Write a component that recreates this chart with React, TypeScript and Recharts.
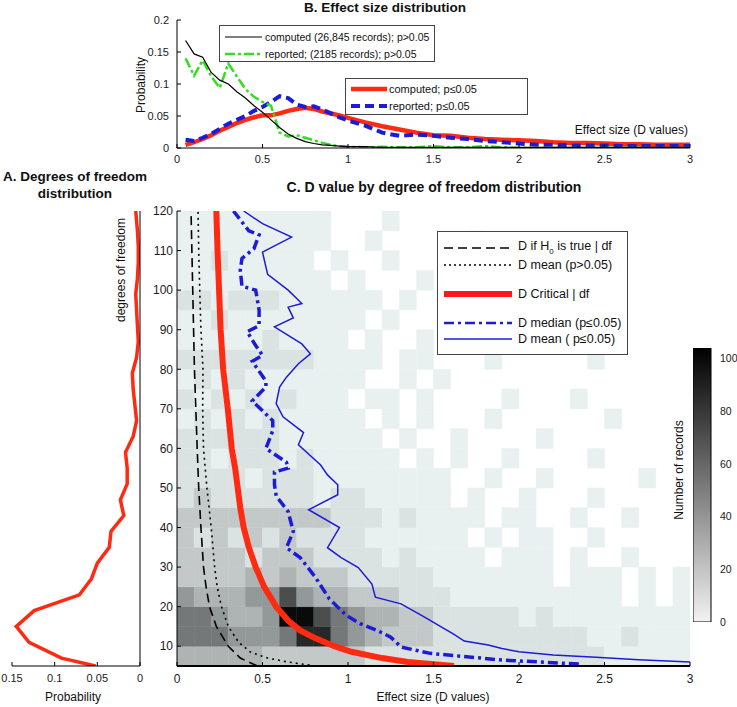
import React from "react";
import { LineChart, Line, XAxis, YAxis, ReferenceArea, BarChart, Bar } from "recharts";

const FONT = "'Liberation Sans', Arial, Helvetica, sans-serif";
const NARROW = "'Liberation Sans Narrow', 'Liberation Sans', Arial, sans-serif";
const RED = "#ff2a12";
const BLUE = "#1c1cd6";
const GREEN = "#33dd22";

// ---------- B. Effect size distribution ----------
const effectX = [
  0.05, 0.1, 0.15, 0.2, 0.25, 0.3, 0.35, 0.4, 0.45, 0.5, 0.55, 0.6, 0.65, 0.7, 0.75, 0.8, 0.85, 0.9, 0.95, 1.0,
  1.1, 1.2, 1.3, 1.4, 1.5, 1.6, 1.7, 1.8, 1.9, 2.0, 2.1, 2.2, 2.3, 2.4, 2.5, 2.6, 2.7, 2.8, 2.9, 3.0,
];
const computedNS = [
  0.168, 0.147, 0.142, 0.118, 0.106, 0.1, 0.088, 0.078, 0.066, 0.056, 0.044, 0.032, 0.022, 0.015, 0.01, 0.007, 0.005, 0.004, 0.003, 0.002,
  0.002, 0.001, 0.001, 0.001, 0.001, 0.001, 0.001, 0.001, 0.001, 0.001, 0.001, 0.001, 0.001, 0.001, 0.001, 0.001, 0.001, 0.001, 0.001, 0.001,
];
const reportedNS = [
  0.14, 0.113, 0.137, 0.112, 0.094, 0.132, 0.112, 0.092, 0.08, 0.072, 0.066, 0.024, 0.018, 0.02, 0.016, 0.012, 0.008, 0.005, 0.003, 0.002,
  0.001, 0.002, 0.001, 0.001, 0.003, 0.001, 0.001, 0.003, 0.001, 0, 0, 0, 0, 0, 0, 0, 0, 0, 0, 0,
];
const computedSig = [
  0.005, 0.009, 0.014, 0.02, 0.027, 0.033, 0.039, 0.044, 0.048, 0.051, 0.051, 0.054, 0.058, 0.061, 0.063, 0.061, 0.057, 0.054, 0.051, 0.047,
  0.04, 0.034, 0.029, 0.024, 0.02, 0.019, 0.016, 0.014, 0.013, 0.012, 0.011, 0.009, 0.008, 0.008, 0.007, 0.006, 0.006, 0.005, 0.005, 0.005,
];
const reportedSig = [
  0.013, 0.011, 0.016, 0.022, 0.03, 0.038, 0.044, 0.05, 0.058, 0.064, 0.072, 0.081, 0.078, 0.068, 0.064, 0.065, 0.06, 0.054, 0.048, 0.043,
  0.035, 0.024, 0.019, 0.021, 0.019, 0.016, 0.014, 0.011, 0.009, 0.007, 0.005, 0.005, 0.004, 0.004, 0.004, 0.003, 0.003, 0.003, 0.003, 0.003,
];

// ---------- A. Degrees of freedom distribution ----------
const dfDistDf = [5, 7, 11, 15, 19, 23, 27, 31, 35, 39, 43, 47, 51, 55, 59, 63, 67, 71, 75, 79, 83, 87, 91, 95, 99, 103, 107, 111, 115, 120];
const dfDistProb = [
  0.052, 0.092, 0.13, 0.145, 0.124, 0.071, 0.057, 0.05, 0.036, 0.034, 0.019, 0.023, 0.015, 0.015, 0.017,
  0.008, 0.004, 0.006, 0.008, 0.009, 0.004, 0.002, 0.003, 0.004, 0.005, 0.003, 0.002, 0.002, 0.003, 0.005,
];

// ---------- C. D value by df ----------
const h0Df = [5, 7, 10, 15, 20, 25, 30, 40, 50, 60, 70, 80, 90, 100, 110, 120];
const h0D = [0.47, 0.37, 0.3, 0.23, 0.19, 0.17, 0.155, 0.14, 0.127, 0.118, 0.11, 0.102, 0.097, 0.092, 0.087, 0.082];

const meanNsDf = [5, 6, 7, 8.5, 11, 15, 20, 25, 30, 40, 50, 60, 70, 80, 90, 100, 110, 120];
const meanNsD = [0.81, 0.65, 0.53, 0.43, 0.36, 0.3, 0.26, 0.235, 0.22, 0.2, 0.175, 0.155, 0.15, 0.152, 0.14, 0.133, 0.127, 0.123];

const critDf = [5, 6, 7, 8.6, 10, 12, 14, 16.5, 20, 25, 30, 35, 40, 45, 50, 55, 60, 70, 80, 90, 100, 110, 120];
const critD = [1.62, 1.35, 1.2, 1.02, 0.92, 0.81, 0.72, 0.65, 0.58, 0.51, 0.46, 0.42, 0.39, 0.37, 0.355, 0.34, 0.32, 0.297, 0.27, 0.255, 0.246, 0.237, 0.23];

const medSigDf = [
  5.5, 6.5, 8.2, 9.8, 12.3, 14, 15.7, 17.8, 22, 27.4, 32.4, 34.9, 39, 44, 48, 50.8, 54, 55, 56.5, 60,
  64.5, 67, 69.5, 72, 75.5, 77, 82, 83.5, 86, 89.5, 91, 95, 100, 101, 105, 108, 110.5, 114, 115, 120,
];
const medSigD = [
  2.35, 1.9, 1.48, 1.31, 1.25, 1.17, 1.07, 0.99, 0.89, 0.81, 0.72, 0.64, 0.68, 0.65, 0.58, 0.57, 0.57, 0.65, 0.64, 0.52,
  0.56, 0.56, 0.5, 0.44, 0.52, 0.52, 0.44, 0.5, 0.46, 0.41, 0.48, 0.48, 0.46, 0.38, 0.37, 0.38, 0.45, 0.48, 0.42, 0.33,
];

const meanSigDf = [
  6, 6.6, 7.2, 7.8, 8.6, 9.4, 10.3, 11.3, 13, 14, 17.8, 20.7, 22.4, 25.7, 29.9, 32.4, 34.9, 40, 44.5, 48.3, 50.8,
  53.3, 55.8, 60.9, 64, 68, 71.3, 75.5, 78, 81.4, 83.9, 86.4, 90.7, 93, 95.7, 96.6, 100, 104, 109.6, 113.4, 116.8, 120,
];
const meanSigD = [
  3.0, 2.7, 2.45, 2.2, 2.0, 1.9, 1.82, 1.68, 1.62, 1.58, 1.43, 1.31, 1.16, 1.14, 1.06, 0.96, 0.88, 0.95, 0.77, 0.94, 0.94,
  0.88, 0.84, 0.71, 0.74, 0.62, 0.58, 0.6, 0.64, 0.71, 0.78, 0.73, 0.57, 0.68, 0.65, 0.73, 0.65, 0.53, 0.5, 0.67, 0.5, 0.39,
];

// heat map: rows of 5 df (from df 5 upward), columns of 0.1 D (0 .. 3); digit = density level
const heatDfStart = [5, 10, 15, 20, 25, 30, 35, 40, 45, 50, 55, 60, 65, 70, 75, 80, 85, 90, 95, 100, 105, 110, 115];
const heatDStart = [
  0, 0.1, 0.2, 0.3, 0.4, 0.5, 0.6, 0.7, 0.8, 0.9, 1.0, 1.1, 1.2, 1.3, 1.4,
  1.5, 1.6, 1.7, 1.8, 1.9, 2.0, 2.1, 2.2, 2.3, 2.4, 2.5, 2.6, 2.7, 2.8, 2.9,
];
const heatRows = [
  "444443333332222222222222211111",
  "666555688654333222222222112111",
  "665445997654433222221211111111",
  "544455754433322211111111110101",
  "333343433322222111111101110101",
  "333323332222121111011101001000",
  "323232322221111110101100100000",
  "333333333222121111011001001000",
  "232222221221111101001000100000",
  "222212221111111100100100000100",
  "221222121111101010010000100000",
  "222222111111010010000100000000",
  "121212111110101000100000010000",
  "212121211101101000010001000000",
  "121211111110010100000000000000",
  "222222221111011000100000100000",
  "111112111101001000000100000000",
  "112111111110100001000000000000",
  "221222111111010000000000100000",
  "111111111010001000000000000000",
  "112111110100100000000100000000",
  "111111111001000001000000000000",
  "111111111000100000000000000000",
];
// approximate number of records for each density level 0..9
const levelCounts = [0, 6, 12, 22, 31, 42, 55, 72, 88, 100];
const colorMax = 104;
const colorTicks = [0, 20, 40, 60, 80, 100];

const dTicks = [0, 0.5, 1, 1.5, 2, 2.5, 3];
const probTicks = [0, 0.05, 0.1, 0.15, 0.2];
const dfTicks = [10, 20, 30, 40, 50, 60, 70, 80, 90, 100, 110, 120];
const dfProbTicks = [0, 0.05, 0.1, 0.15];

const pts = (xs: number[], ys: number[], xk: string, yk: string) =>
  xs.map((x, i) => ({ [xk]: x, [yk]: ys[i] }));

const heatCells: { d: number; df: number; count: number }[] = [];
heatRows.forEach((row, r) => {
  heatDStart.forEach((d, c) => {
    const level = Number(row[c] || 0);
    if (level > 0) heatCells.push({ d, df: heatDfStart[r], count: levelCounts[level] });
  });
});
const grayFor = (count: number) => {
  const v = 255 * (1 - Math.min(count, colorMax) / colorMax);
  return `rgb(${Math.round(v * 0.97)},${Math.round(v)},${Math.round(v)})`;
};

const tickStyle = { fontSize: 11, fill: "#1a1a1a", fontFamily: FONT };

const Txt = ({
  x, y, children, size = 12, bold = false, rotate = false, anchor = "middle",
}: {
  x: number; y: number; children: React.ReactNode; size?: number; bold?: boolean; rotate?: boolean; anchor?: string;
}) => (
  <div
    style={{
      position: "absolute",
      left: x,
      top: y,
      transform: `translate(${anchor === "middle" ? "-50%" : anchor === "end" ? "-100%" : "0"}, -50%)${rotate ? " rotate(-90deg)" : ""}`,
      fontFamily: FONT,
      fontSize: size,
      fontWeight: bold ? 700 : 400,
      whiteSpace: "nowrap",
      color: "#111",
      lineHeight: 1.25,
      textAlign: "center",
    }}
  >
    {children}
  </div>
);

type Entry = { label: React.ReactNode; stroke: string; width: number; dash?: string; y: number };
const LegendBox = ({
  left, top, width, height, entries, sampleX, sampleW, textX, size,
}: {
  left: number; top: number; width: number; height: number; entries: Entry[]; sampleX: number; sampleW: number; textX: number; size: number;
}) => (
  <div style={{ position: "absolute", left, top, width, height, border: "1px solid #444", background: "#fff", boxSizing: "border-box" }}>
    {entries.map((e, i) => (
      <React.Fragment key={i}>
        <svg style={{ position: "absolute", left: sampleX, top: e.y - 6 }} width={sampleW} height={12}>
          <line x1={0} y1={6} x2={sampleW} y2={6} stroke={e.stroke} strokeWidth={e.width} strokeDasharray={e.dash} />
        </svg>
        <div
          style={{
            position: "absolute", left: textX, top: e.y, transform: "translateY(-50%)",
            fontFamily: FONT, fontSize: size, whiteSpace: "nowrap", lineHeight: 1, color: "#111",
          }}
        >
          {e.label}
        </div>
      </React.Fragment>
    ))}
  </div>
);

const EffectChart = () => (
  <div style={{ position: "absolute", left: 0, top: 0 }}>
    <LineChart width={737} height={175} margin={{ top: 20, right: 47, bottom: 2, left: 137 }}>
      <XAxis type="number" dataKey="d" domain={[0, 3]} ticks={dTicks} allowDataOverflow height={25}
        stroke="#000" tickSize={-4} tickMargin={11} tick={tickStyle} />
      <YAxis type="number" domain={[0, 0.2]} ticks={probTicks} allowDataOverflow width={40}
        stroke="#000" tickSize={-4} tickMargin={12} tick={tickStyle} />
      <Line data={pts(effectX, computedSig, "d", "p")} dataKey="p" stroke={RED} strokeWidth={4.5}
        dot={false} activeDot={false} isAnimationActive={false} />
      <Line data={pts(effectX, reportedSig, "d", "p")} dataKey="p" stroke={BLUE} strokeWidth={4}
        strokeDasharray="9 5" dot={false} activeDot={false} isAnimationActive={false} />
      <Line data={pts(effectX, reportedNS, "d", "p")} dataKey="p" stroke={GREEN} strokeWidth={2.5}
        strokeDasharray="10 3 3 3" dot={false} activeDot={false} isAnimationActive={false} />
      <Line data={pts(effectX, computedNS, "d", "p")} dataKey="p" stroke="#000" strokeWidth={1.2}
        dot={false} activeDot={false} isAnimationActive={false} />
    </LineChart>
  </div>
);

const DfChart = () => (
  <div style={{ position: "absolute", left: 0, top: 180 }}>
    <LineChart width={160} height={527} margin={{ top: 31, right: 19, bottom: 16, left: 12 }}>
      <XAxis type="number" dataKey="p" domain={[0, 0.15]} reversed ticks={dfProbTicks} allowDataOverflow height={25}
        stroke="#000" tickSize={-4} tickMargin={12} tick={tickStyle} />
      <YAxis type="number" orientation="right" domain={[5, 120]} ticks={dfTicks} allowDataOverflow width={1}
        stroke="#000" tickSize={-4} tick={false} />
      <Line data={pts(dfDistProb, dfDistDf, "p", "df")} dataKey="df" stroke={RED} strokeWidth={3.5}
        dot={false} activeDot={false} isAnimationActive={false} />
    </LineChart>
  </div>
);

const HeatLayer = () => (
  <div style={{ position: "absolute", left: 0, top: 180 }}>
    <LineChart width={737} height={527} margin={{ top: 31, right: 47, bottom: 41, left: 177 }}>
      <XAxis type="number" dataKey="d" domain={[0, 3]} hide allowDataOverflow />
      <YAxis type="number" domain={[5, 120]} hide allowDataOverflow />
      {heatCells.map((c, i) => (
        <ReferenceArea key={i} x1={c.d} x2={c.d + 0.1} y1={c.df} y2={c.df + 5}
          fill={grayFor(c.count)} fillOpacity={1} stroke={grayFor(c.count)} strokeWidth={0.5} ifOverflow="hidden" />
      ))}
    </LineChart>
  </div>
);

const DValueChart = () => (
  <div style={{ position: "absolute", left: 0, top: 180 }}>
    <LineChart width={737} height={527} margin={{ top: 31, right: 47, bottom: 16, left: 137 }}>
      <XAxis type="number" dataKey="d" domain={[0, 3]} ticks={dTicks} allowDataOverflow height={25}
        axisLine={{ stroke: "#000", strokeWidth: 2 }} tickLine={{ stroke: "#000" }} tickSize={-4} tickMargin={12}
        tick={{ ...tickStyle, fontSize: 12 }} />
      <YAxis type="number" domain={[5, 120]} ticks={dfTicks} allowDataOverflow width={40}
        stroke="#000" tickSize={-4} tickMargin={8} tick={{ ...tickStyle, fontSize: 12, fontFamily: NARROW }} />
      <Line data={pts(critD, critDf, "d", "df")} dataKey="df" stroke={RED} strokeWidth={6}
        dot={false} activeDot={false} isAnimationActive={false} />
      <Line data={pts(medSigD, medSigDf, "d", "df")} dataKey="df" stroke={BLUE} strokeWidth={3.5}
        strokeDasharray="10 4 3 4" dot={false} activeDot={false} isAnimationActive={false} />
      <Line data={pts(meanSigD, meanSigDf, "d", "df")} dataKey="df" stroke={BLUE} strokeWidth={1.5}
        dot={false} activeDot={false} isAnimationActive={false} />
      <Line data={pts(h0D, h0Df, "d", "df")} dataKey="df" stroke="#000" strokeWidth={1.6}
        strokeDasharray="9 5" dot={false} activeDot={false} isAnimationActive={false} />
      <Line data={pts(meanNsD, meanNsDf, "d", "df")} dataKey="df" stroke="#000" strokeWidth={1.6}
        strokeDasharray="2 4" dot={false} activeDot={false} isAnimationActive={false} />
    </LineChart>
  </div>
);

const ColorBar = () => (
  <div style={{ position: "absolute", left: 693, top: 340 }}>
    <BarChart width={44} height={288} data={[{ name: "n", c: colorMax }]} margin={{ top: 8, right: 0, bottom: 6, left: 0 }}
      barCategoryGap={0}>
      <defs>
        <linearGradient id="cbGrad" x1="0" y1="1" x2="0" y2="0">
          <stop offset="0" stopColor="#f2f2f2" />
          <stop offset="1" stopColor="#000" />
        </linearGradient>
      </defs>
      <XAxis dataKey="name" hide />
      <YAxis orientation="right" width={26} domain={[0, colorMax]} ticks={colorTicks} allowDataOverflow
        axisLine={false} tickLine={false} tickMargin={3} tick={{ ...tickStyle, fontSize: 10.5 }} />
      <Bar dataKey="c" fill="url(#cbGrad)" stroke="#000" strokeWidth={1} isAnimationActive={false} />
    </BarChart>
  </div>
);

export default function App() {
  return (
    <div style={{ position: "absolute", left: 0, top: 0, width: 737, height: 707, background: "#fff", overflow: "hidden" }}>
      <EffectChart />
      <HeatLayer />
      <DValueChart />
      <DfChart />
      <ColorBar />

      <Txt x={385} y={8} size={13.5} bold>B. Effect size distribution</Txt>
      <Txt x={141} y={85} rotate>Probability</Txt>
      <Txt x={688} y={130} anchor="end">Effect size (D values)</Txt>

      <Txt x={75} y={186} size={13.5} bold>
        A. Degrees of freedom
        <br />
        distribution
      </Txt>
      <Txt x={121} y={270} rotate>degrees of freedom</Txt>
      <Txt x={73} y={697}>Probability</Txt>

      <Txt x={434} y={188} size={14} bold>C. D value by degree of freedom distribution</Txt>
      <Txt x={433} y={697}>Effect size (D values)</Txt>
      <Txt x={679} y={470} rotate>Number of records</Txt>

      <LegendBox left={219} top={25} width={216} height={37} sampleX={5} sampleW={37} textX={45} size={10.5}
        entries={[
          { label: "computed (26,845 records); p>0.05", stroke: "#000", width: 1.2, y: 11 },
          { label: "reported; (2185 records); p>0.05", stroke: GREEN, width: 2.5, dash: "10 3 3 3", y: 28 },
        ]} />
      <LegendBox left={345} top={78} width={183} height={37} sampleX={5} sampleW={36} textX={43} size={11}
        entries={[
          { label: "computed; p\u22640.05", stroke: RED, width: 4.5, y: 10 },
          { label: "reported; p\u22640.05", stroke: BLUE, width: 4, dash: "9 5", y: 27 },
        ]} />
      <LegendBox left={437} top={231} width={191} height={124} sampleX={6} sampleW={68} textX={80} size={12.5}
        entries={[
          {
            label: (
              <span>
                D if H<sub style={{ fontSize: 8 }}>0</sub> is true | df
              </span>
            ),
            stroke: "#000", width: 1.6, dash: "9 5", y: 16,
          },
          { label: "D mean (p>0.05)", stroke: "#000", width: 1.6, dash: "2 3", y: 33 },
          { label: "D Critical | df", stroke: "#ff1a1a", width: 6, y: 62 },
          { label: "D median (p\u22640.05)", stroke: BLUE, width: 2.5, dash: "10 4 3 4", y: 91 },
          { label: "D mean ( p\u22640.05)", stroke: BLUE, width: 1.5, y: 107 },
        ]} />
    </div>
  );
}
